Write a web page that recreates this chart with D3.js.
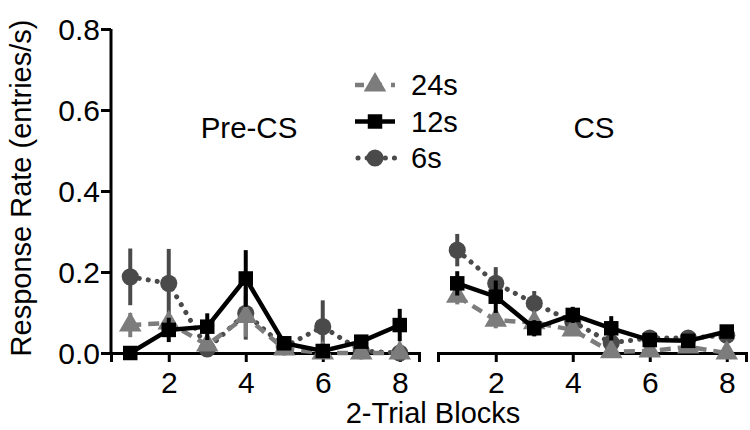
<!DOCTYPE html>
<html>
<head>
<meta charset="utf-8">
<script src="https://cdn.jsdelivr.net/npm/d3@7"></script>
<style>
    body { margin: 0; background: #fff; }
    text { font-family: "Liberation Sans", Arial, sans-serif; fill: #000; }
</style>
</head>
<body>
<div id="chart"></div>
<script>
// blocks 1..8
const blocks = [1, 2, 3, 4, 5, 6, 7, 8];
const yTicks = [0, 0.2, 0.4, 0.6, 0.8];
const xTicks = [2, 4, 6, 8];

// Pre-CS panel
const pre24 = [0.069, 0.074, 0.02, 0.09, 0.01, 0.0, 0.0, 0.0];
const pre24Err = [0.03, 0.02, 0.015, 0.05, 0.01, 0.0, 0.0, 0.0];
const pre12 = [0.0, 0.057, 0.065, 0.184, 0.024, 0.005, 0.028, 0.069];
const pre12Err = [0.0, 0.03, 0.033, 0.07, 0.01, 0.01, 0.015, 0.04];
const pre6 = [0.188, 0.172, 0.01, 0.098, 0.015, 0.065, 0.005, 0.0];
const pre6Err = [0.07, 0.085, 0.01, 0.065, 0.01, 0.065, 0.005, 0.0];

// CS panel
const cs24 = [0.14, 0.081, 0.075, 0.057, 0.003, 0.005, 0.015, 0.0];
const cs24Err = [0.02, 0.02, 0.015, 0.015, 0.005, 0.01, 0.01, 0.01];
const cs12 = [0.172, 0.139, 0.061, 0.094, 0.061, 0.032, 0.03, 0.053];
const cs12Err = [0.03, 0.04, 0.02, 0.02, 0.03, 0.015, 0.01, 0.015];
const cs6 = [0.254, 0.172, 0.123, 0.077, 0.025, 0.037, 0.037, 0.044];
const cs6Err = [0.04, 0.04, 0.03, 0.02, 0.02, 0.015, 0.01, 0.01];

const seriesNames = ["24s", "12s", "6s"];

const width = 750;
const height = 430;
const fontSize = 30;

const svg = d3.select("#chart").append("svg")
    .attr("width", width)
    .attr("height", height);

const yScale = d3.scaleLinear()
    .domain([0, 0.8])
    .range([353, 29]);

const panels = [
    {name: "Pre-CS", x0: 111, x1: 419, labelX: 249,
        data: {"24s": [pre24, pre24Err], "12s": [pre12, pre12Err], "6s": [pre6, pre6Err]}},
    {name: "CS", x0: 438, x1: 746, labelX: 594,
        data: {"24s": [cs24, cs24Err], "12s": [cs12, cs12Err], "6s": [cs6, cs6Err]}}
];

const style = {
    "24s": {color: "#7c7c7c", dash: "11,7", cap: "butt", shape: d3.symbolTriangle, size: 220},
    "12s": {color: "#000000", dash: null, cap: "butt", shape: d3.symbolSquare, size: 210},
    "6s": {color: "#4a4a4a", dash: "0.1,9", cap: "round", shape: d3.symbolCircle, size: 230}
};

// y axis
const yAxis = svg.append("g")
    .attr("class", "axis_y")
    .attr("transform", "translate(" + 111 + ",0)")
    .call(d3.axisLeft(yScale).tickValues(yTicks).tickFormat(d3.format(".1f")).tickSize(10).tickPadding(1));

yAxis.select(".domain").attr("stroke-width", 3).attr("d", "M0," + yScale(0.8) + "V" + (yScale(0) + 1.5));
yAxis.selectAll(".tick line").attr("stroke-width", 3);
yAxis.selectAll(".tick text").attr("font-size", fontSize).attr("dy", "0.36em");

svg.append("text")
    .attr("transform", "translate(31,188) rotate(-90)")
    .attr("text-anchor", "middle")
    .attr("font-size", 29)
    .text("Response Rate (entries/s)");

panels.forEach(function (p) {
    let xScale = d3.scaleLinear()
        .domain([0.5, 8.5])
        .range([p.x0, p.x1]);

    let g = svg.append("g").attr("class", "panel");

    let xAxis = g.append("g")
        .attr("class", "axis_x")
        .attr("transform", "translate(0," + yScale(0) + ")")
        .call(d3.axisBottom(xScale).tickValues(xTicks).tickSizeOuter(0).tickSize(9).tickPadding(8));

    xAxis.select(".domain").attr("stroke-width", 3);
    xAxis.selectAll(".tick line").attr("stroke-width", 3);
    xAxis.selectAll(".tick text").attr("font-size", fontSize).attr("dy", "0.78em");

    g.append("text")
        .attr("x", p.labelX)
        .attr("y", 138)
        .attr("text-anchor", "middle")
        .attr("font-size", 29.5)
        .text(p.name);

    // draw back to front: 6s, 24s, 12s
    ["6s", "24s", "12s"].forEach(function (key) {
        let vals = p.data[key][0];
        let errs = p.data[key][1];
        let st = style[key];
        let pts = blocks.map((b, i) => ({x: b, v: vals[i], e: errs[i]}));

        let line = d3.line()
            .x(d => xScale(d.x))
            .y(d => yScale(d.v));

        g.append("path")
            .datum(pts)
            .attr("fill", "none")
            .attr("stroke", st.color)
            .attr("stroke-width", key === "6s" ? 5 : 4.5)
            .attr("stroke-linecap", st.cap)
            .attr("stroke-dasharray", st.dash)
            .attr("d", line);

        g.selectAll(".err" + key)
            .data(pts.filter(d => d.e > 0))
            .enter()
            .append("line")
            .attr("stroke", st.color)
            .attr("stroke-width", 4)
            .attr("x1", d => xScale(d.x))
            .attr("x2", d => xScale(d.x))
            .attr("y1", d => yScale(d.v + d.e))
            .attr("y2", d => yScale(Math.max(0, d.v - d.e)));

        g.selectAll(".mark" + key)
            .data(pts)
            .enter()
            .append("path")
            .attr("fill", st.color)
            .attr("transform", d => "translate(" + xScale(d.x) + "," + yScale(d.v) + ")")
            .attr("d", d3.symbol().type(st.shape).size(st.size));
    });
});

// legend
const legend = svg.append("g").attr("class", "legend");
const legendY = d3.scalePoint().domain(seriesNames).range([85, 158]);

seriesNames.forEach(function (key) {
    let st = style[key];
    let y = legendY(key);
    legend.append("line")
        .attr("x1", key === "6s" ? 358 : 355)
        .attr("x2", 395)
        .attr("y1", y)
        .attr("y2", y)
        .attr("stroke", st.color)
        .attr("stroke-width", key === "6s" ? 5 : 4.5)
        .attr("stroke-linecap", st.cap)
        .attr("stroke-dasharray", key === "24s" ? "9,9" : st.dash);
    legend.append("path")
        .attr("fill", st.color)
        .attr("transform", "translate(375," + y + ")")
        .attr("d", d3.symbol().type(st.shape).size(st.size));
    legend.append("text")
        .attr("x", 411)
        .attr("y", y)
        .attr("dy", "0.36em")
        .attr("font-size", 29)
        .text(key);
});

svg.append("text")
    .attr("x", 433)
    .attr("y", 423)
    .attr("text-anchor", "middle")
    .attr("font-size", 29)
    .text("2-Trial Blocks");
</script>
</body>
</html>
